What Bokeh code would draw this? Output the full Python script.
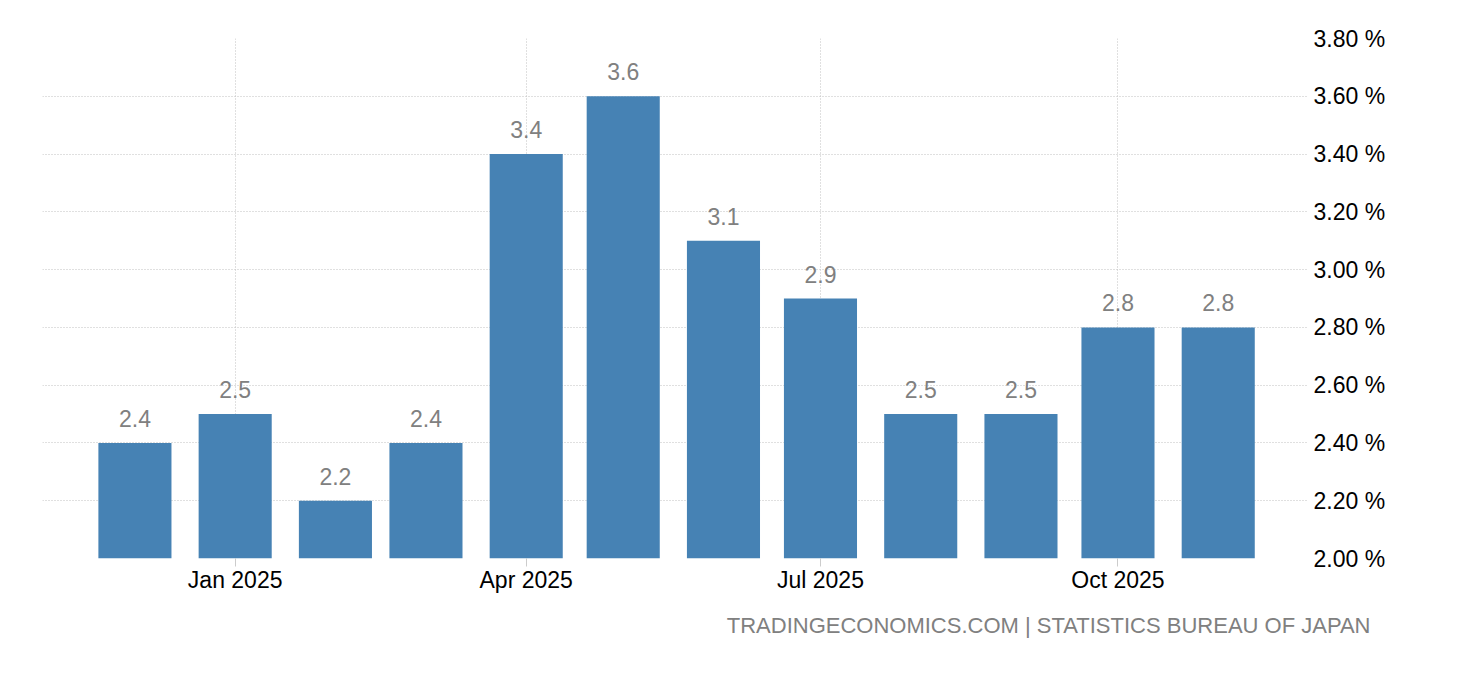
from datetime import datetime, timedelta
from bokeh.plotting import figure
from bokeh.models import (ColumnDataSource, Range1d, FixedTicker, DatetimeTickFormatter,
                          PrintfTickFormatter, Title)
from bokeh.core.properties import value
from bokeh.embed import file_html
from bokeh.resources import INLINE

# ---- data ----
months = ["2024-12", "2025-01", "2025-02", "2025-03", "2025-04", "2025-05",
          "2025-06", "2025-07", "2025-08", "2025-09", "2025-10", "2025-11"]
rates = [2.4, 2.5, 2.2, 2.4, 3.4, 3.6, 3.1, 2.9, 2.5, 2.5, 2.8, 2.8]
x_tick_months = ["2025-01", "2025-04", "2025-07", "2025-10"]
y_ticks = [2.0, 2.2, 2.4, 2.6, 2.8, 3.0, 3.2, 3.4, 3.6, 3.8]
footer = "TRADINGECONOMICS.COM | STATISTICS BUREAU OF JAPAN"

def to_dt(m):
    return datetime.strptime(m, "%Y-%m")

dates = [to_dt(m) for m in months]
labels = [f"{v:.1f}" for v in rates]
src = ColumnDataSource(dict(x=dates, top=rates, label=labels))

FONT = "Liberation Sans"
BAR = "#4682b4"

p = figure(width=1444, height=664, x_axis_type="datetime",
           output_backend="svg", toolbar_location=None,
           x_range=Range1d(datetime(2024, 11, 2, 10), datetime(2025, 11, 28, 22)),
           y_range=Range1d(y_ticks[0], y_ticks[-1]),
           y_axis_location="right",
           min_border_left=42, min_border_top=38, min_border_right=136, min_border_bottom=106)
p.outline_line_color = None
p.background_fill_color = "white"
p.border_fill_color = "white"

bar_w = timedelta(days=22.6).total_seconds() * 1000
p.vbar(x="x", top="top", bottom=y_ticks[0], width=bar_w, source=src,
       fill_color=BAR, line_color=None)

p.text(x="x", y="top", text="label", source=src, text_align="center",
       text_baseline="bottom", y_offset=-16,
       text_font=value(FONT), text_font_size="23px", text_color="#808080")

# x axis
xa = p.xaxis[0]
xa.ticker = FixedTicker(ticks=[to_dt(m).timestamp() * 1000 for m in x_tick_months])
xa.formatter = DatetimeTickFormatter(months="%b %Y", days="%b %Y", hours="%b %Y")
xa.axis_line_color = None
xa.major_tick_line_color = "#cccccc"
xa.major_tick_out = 8
xa.major_tick_in = 0
xa.minor_tick_line_color = None
xa.major_label_standoff = 0
xa.major_label_text_font = FONT
xa.major_label_text_font_size = "23px"
xa.major_label_text_color = "#000000"

# y axis
ya = p.yaxis[0]
ya.ticker = FixedTicker(ticks=y_ticks)
ya.formatter = PrintfTickFormatter(format="%.2f %%")
ya.axis_line_color = None
ya.major_tick_line_color = None
ya.minor_tick_line_color = None
ya.major_tick_out = 0
ya.major_tick_in = 0
ya.major_label_standoff = 5
ya.major_label_text_font = FONT
ya.major_label_text_font_size = "23px"
ya.major_label_text_color = "#000000"

for g in (p.xgrid[0], p.ygrid[0]):
    g.grid_line_color = "#c0c0c0"
    g.grid_line_dash = "1 2"
    g.grid_line_width = 1

p.add_layout(Title(text=footer, align="right", standoff=30, offset=-62,
                   text_font=FONT, text_font_size="22px", text_font_style="normal",
                   text_color="#808080"), "below")

open("out.html", "w").write(file_html(p, INLINE))
